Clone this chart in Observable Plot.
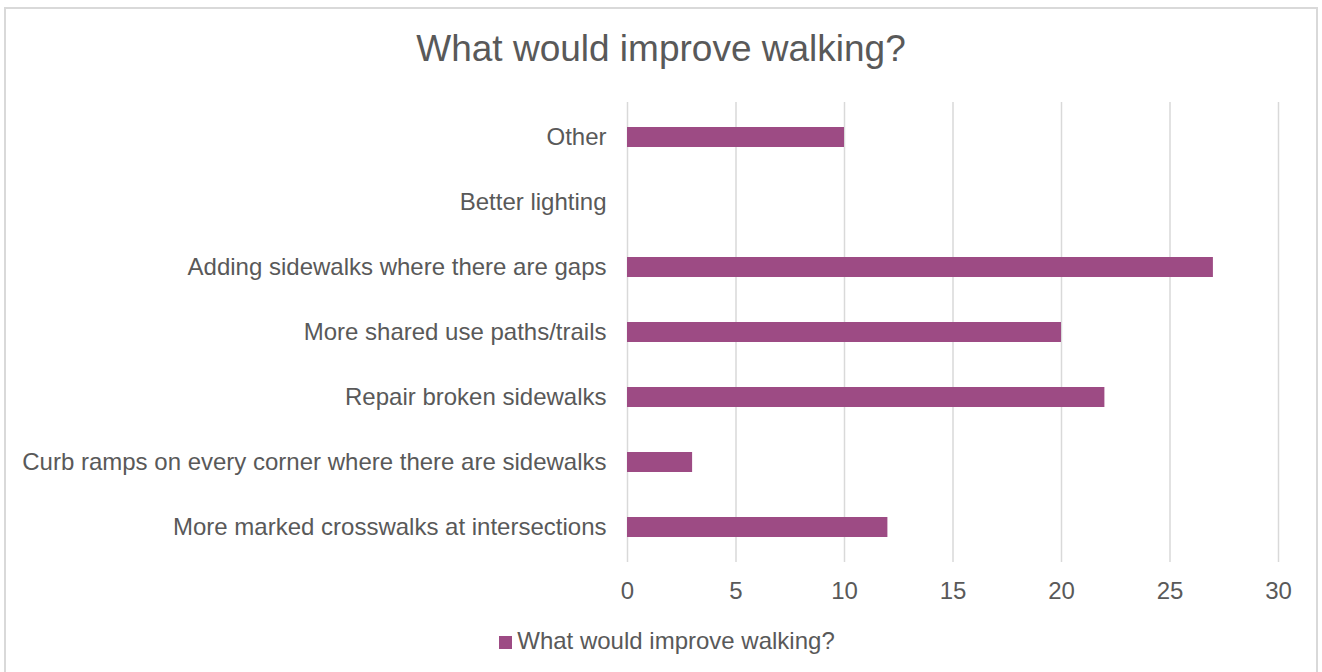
<!DOCTYPE html>
<html>
<head>
<meta charset="utf-8">
<script src="https://cdn.jsdelivr.net/npm/d3@7"></script>
<script src="https://cdn.jsdelivr.net/npm/@observablehq/plot@0.6"></script>
<style>
  html, body { margin: 0; padding: 0; background: #fff; overflow: hidden; }
  #frame { position: absolute; left: 4px; top: 7px; width: 1314px; height: 700px; border: 2px solid #d9d9d9; box-sizing: border-box; background: #fff; }
  #title { position: absolute; left: 0; top: 27px; width: 1322px; text-align: center; font-family: "Liberation Sans", Arial, sans-serif; font-size: 37px; color: #595959; line-height: 44px; }
  #chart { position: absolute; left: 0; top: 0; }
  #legend { position: absolute; left: 0; top: 626px; width: 1322px; padding-left: 12px; box-sizing: border-box; text-align: center; font-family: "Liberation Sans", Arial, sans-serif; font-size: 24px; color: #595959; line-height: 30px; }
  #legend .sw { display: inline-block; width: 13px; height: 13px; background: #9d4b84; margin-right: 5px; vertical-align: 0px; }
</style>
</head>
<body>
<div id="frame"></div>
<div id="chart"></div>
<div id="title">What would improve walking?</div>
<div id="legend"><span class="sw"></span>What would improve walking?</div>
<script>
const categories = [
  "Other",
  "Better lighting",
  "Adding sidewalks where there are gaps",
  "More shared use paths/trails",
  "Repair broken sidewalks",
  "Curb ramps on every corner where there are sidewalks",
  "More marked crosswalks at intersections"
];
const values = [10, 0, 27, 20, 22, 3, 12];
const xTicks = [0, 5, 10, 15, 20, 25, 30];
const seriesName = "What would improve walking?";

const data = categories.map((c, i) => ({category: c, value: values[i]}));

const plot = Plot.plot({
  width: 1322,
  height: 620,
  marginLeft: 627,
  marginRight: 44,
  marginTop: 102,
  marginBottom: 58,
  style: {fontFamily: "'Liberation Sans', Arial, sans-serif", fontSize: "24px", color: "#595959", background: "transparent", overflow: "visible"},
  x: {domain: [0, 30], ticks: xTicks, label: null, tickSize: 0, tickPadding: 20},
  y: {domain: categories, label: null, tickSize: 0, tickPadding: 21, paddingInner: 0.695, paddingOuter: 0.3475},
  marks: [
    Plot.ruleX(xTicks, {stroke: "#d9d9d9", strokeWidth: 1.5}),
    Plot.barX(data, {x: "value", y: "category", fill: "#9d4b84"}),
    Plot.axisX({ticks: xTicks, tickSize: 0, tickPadding: 19, fill: "#595959", label: null}),
    Plot.axisY({tickSize: 0, tickPadding: 21, fill: "#595959", label: null})
  ]
});
document.getElementById("chart").appendChild(plot);
</script>
</body>
</html>
